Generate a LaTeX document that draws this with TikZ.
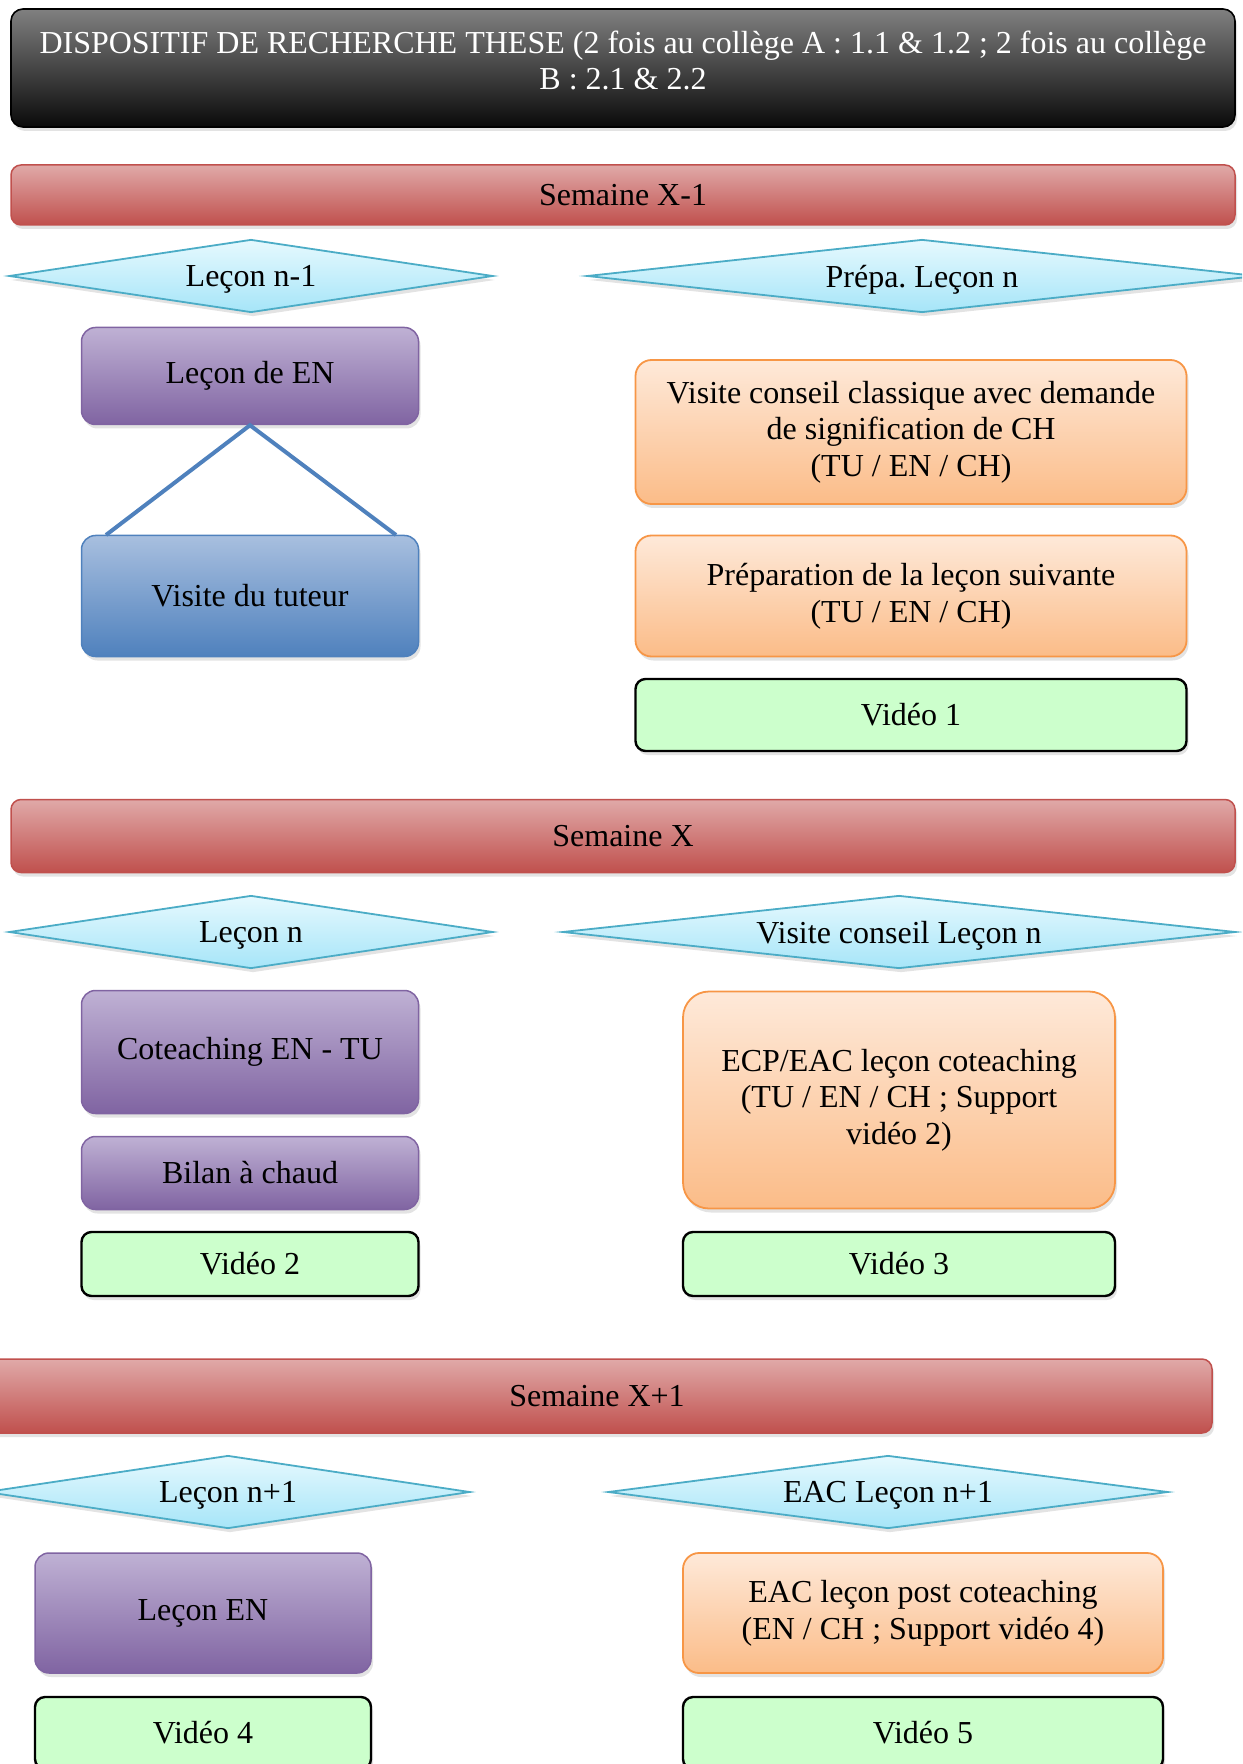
\documentclass[tikz,border=0pt]{standalone}
\usepackage{fontspec}
\setmainfont{Liberation Serif}
\usetikzlibrary{shapes.geometric,shadows}
\definecolor{titretop}{HTML}{808080}
\definecolor{titrebot}{HTML}{0A0A0A}
\definecolor{semtop}{HTML}{E0A9A8}
\definecolor{sembot}{HTML}{C0504D}
\definecolor{lostop}{HTML}{E6F9FE}
\definecolor{losbot}{HTML}{A6E5F8}
\definecolor{losbord}{HTML}{4BACC6}
\definecolor{viotop}{HTML}{BFB1D4}
\definecolor{viobot}{HTML}{8064A2}
\definecolor{bleutop}{HTML}{A8BFDF}
\definecolor{bleubot}{HTML}{4F81BD}
\definecolor{orgtop}{HTML}{FEE9D9}
\definecolor{orgbot}{HTML}{FBBC88}
\definecolor{orgbord}{HTML}{F79646}
\definecolor{vidfill}{HTML}{CCFFCC}
\frenchspacing

\begin{document}
\begin{tikzpicture}[x=0.5pt,y=-0.5pt]
		\tikzstyle{every node}+=[inner sep=2pt, font=\fontsize{16}{18.3}\selectfont, align=center]
		\tikzstyle{ombre}=[drop shadow={fill=black!22, shadow xshift=1pt, shadow yshift=-2pt}]
		\tikzstyle{titre}=[rectangle, rounded corners=6pt, draw=black, line width=0.8pt, top color=titretop, bottom color=titrebot, text=white, ombre]
		\tikzstyle{semaine}=[rectangle, rounded corners=5pt, draw=sembot, line width=0.75pt, top color=semtop, bottom color=sembot, ombre]
		\tikzstyle{losange}=[diamond, draw=losbord, line width=0.9pt, inner sep=0pt, text depth=0pt, top color=lostop, bottom color=losbot, minimum height=36.5pt, ombre]
		\tikzstyle{violet}=[rectangle, rounded corners=7pt, draw=viobot, line width=0.75pt, top color=viotop, bottom color=viobot, minimum width=168.5pt, ombre]
		\tikzstyle{bleu}=[rectangle, rounded corners=7pt, draw=bleubot, line width=0.75pt, top color=bleutop, bottom color=bleubot, minimum width=168.5pt, ombre]
		\tikzstyle{orange}=[rectangle, rounded corners=8pt, draw=orgbord, line width=0.9pt, top color=orgtop, bottom color=orgbot, ombre]
		\tikzstyle{video}=[rectangle, rounded corners=5pt, draw=black, line width=1.2pt, fill=vidfill, ombre]
		\clip (0,0) rectangle (1242,1764);
		\useasboundingbox (0,0) rectangle (1242,1764);
		\node [titre, minimum width=612pt, minimum height=59pt] (titre) at (623,68) {DISPOSITIF DE RECHERCHE THESE (2 fois au collège A : 1.1 \& 1.2 ; 2 fois au collège\\B : 2.1 \& 2.2\\[-10.5pt]};
		\node [semaine, minimum width=612pt, minimum height=30pt] (semA) at (623,195) {Semaine X-1};
		\node [losange, aspect=6.6, minimum width=242pt] (lecPrec) at (251,276) {Leçon n-1};
		\node [losange, aspect=9.2, minimum width=335pt] (prepa) at (922,276) {Prépa. Leçon n};
		\node [violet, minimum height=48.5pt] (lecEN) at (250,376) {Leçon de EN};
		\node [bleu, minimum height=60.5pt] (tuteur) at (250,596) {Visite du tuteur};
		\coordinate (tutG) at (106,535);
		\coordinate (tutD) at (396,535);
		\draw [bleubot, line width=2pt] (tutG) -- (lecEN.south) -- (tutD);
		\node [orange, minimum width=275.5pt, minimum height=72pt] (visClass) at (911,432) {Visite conseil classique avec demande\\de signification de CH\\(TU / EN / CH)};
		\node [orange, minimum width=275.5pt, minimum height=60.5pt] (prepSuiv) at (911,596) {Préparation de la leçon suivante\\(TU / EN / CH)};
		\node [video, minimum width=275.5pt, minimum height=36pt] (vidA) at (911,715) {Vidéo 1};
		\node [semaine, minimum width=612pt, minimum height=36.5pt] (semB) at (623,836) {Semaine X};
		\node [losange, aspect=6.6, minimum width=242pt] (lecN) at (251,932) {Leçon n};
		\node [losange, aspect=9.2, minimum width=336.5pt] (visLec) at (899,932) {Visite conseil Leçon n};
		\node [violet, minimum height=61.5pt] (cotea) at (250,1052) {Coteaching EN - TU};
		\node [violet, minimum height=36.5pt] (bilan) at (250,1173) {Bilan à chaud};
		\node [video, minimum width=168.5pt, minimum height=32pt] (vidB) at (250,1264) {Vidéo 2};
		\node [orange, rounded corners=13pt, minimum width=216pt, minimum height=108.5pt] (ecp) at (899,1100) {ECP/EAC leçon coteaching\\(TU / EN / CH ; Support\\vidéo 2)};
		\node [video, minimum width=216pt, minimum height=32pt] (vidC) at (899,1264) {Vidéo 3};
		\node [semaine, minimum width=615pt, minimum height=37pt] (semC) at (597,1396) {Semaine X+1};
		\node [losange, aspect=6.6, minimum width=242pt] (lecSuiv) at (228,1492) {Leçon n+1};
		\node [losange, aspect=7.7, minimum width=280pt] (eacLec) at (888,1492) {EAC Leçon n+1};
		\node [violet, minimum width=168pt, minimum height=60pt] (lecEN2) at (203,1613) {Leçon EN};
		\node [video, minimum width=168pt, minimum height=36pt] (vidD) at (203,1733) {Vidéo 4};
		\node [orange, minimum width=240pt, minimum height=60pt] (eacPost) at (923,1613) {EAC leçon post coteaching\\(EN / CH ; Support vidéo 4)};
		\node [video, minimum width=240pt, minimum height=36pt] (vidE) at (923,1733) {Vidéo 5};
		\end{tikzpicture}
\end{document}
